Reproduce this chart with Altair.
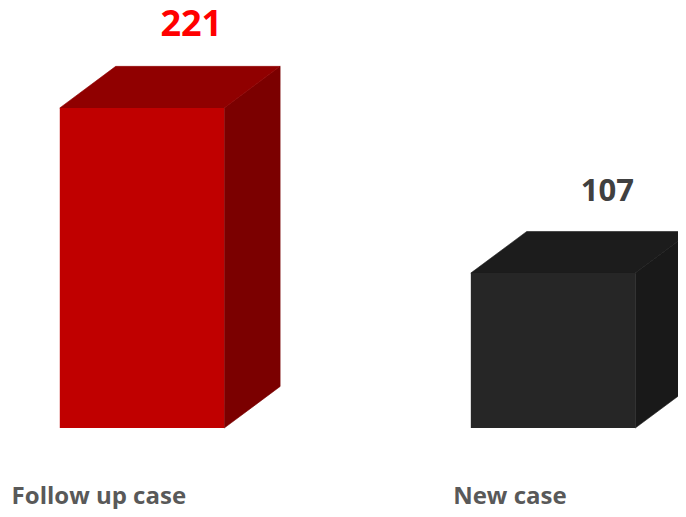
import altair as alt
import pandas as pd

# ---- data ----
categories = ["Follow up case", "New case"]
values = [221, 107]

# ---- styles ----
front_colors = ["#C00000", "#262626"]
top_colors = ["#900000", "#1C1C1C"]
side_colors = ["#7B0000", "#191919"]
label_colors = ["#FF0000", "#404040"]
label_sizes = [36, 31]

# ---- geometry constants (data units) ----
HALF_W = 0.2     # half width of the front face (in slot units)
DEPTH_X = 0.136  # horizontal depth of the 3D effect
DEPTH_Y = 28.7   # vertical depth of the 3D effect (value units)
X_DOMAIN = [-0.326, 1.304]
Y_DOMAIN = [-55.9, 290.0]

W, H = 670, 501
FONT = "Open Sans"

front_rows, side_rows, top_rows = [], [], []
for i, (c, v) in enumerate(zip(categories, values)):
    front_rows.append({"cat": c, "x": i - HALF_W, "x2": i + HALF_W, "y": 0, "y2": v})
    side_rows.append({"cat": c, "x": i + HALF_W, "y": 0, "y2": v})
    side_rows.append({"cat": c, "x": i + HALF_W + DEPTH_X, "y": DEPTH_Y, "y2": v + DEPTH_Y})
    top_rows.append({"cat": c, "y": v, "x": i - HALF_W, "x2": i + HALF_W})
    top_rows.append({"cat": c, "y": v + DEPTH_Y, "x": i - HALF_W + DEPTH_X, "x2": i + HALF_W + DEPTH_X})

front_df = pd.DataFrame(front_rows)
side_df = pd.DataFrame(side_rows)
top_df = pd.DataFrame(top_rows)
label_df = pd.DataFrame({
    "cat": categories,
    "value": values,
    "x": [0.12, 1.132],
    "y": [v + DEPTH_Y for v in values],
    "size": label_sizes,
})
cat_df = pd.DataFrame({
    "cat": categories,
    "x": [i - 0.105 for i in range(len(values))],
    "y": [0 for _ in values],
})

xs = alt.Scale(domain=X_DOMAIN, nice=False, zero=False)
ys = alt.Scale(domain=Y_DOMAIN, nice=False, zero=False)

def col(rng):
    return alt.Color("cat:N", scale=alt.Scale(domain=categories, range=rng), legend=None)

side = alt.Chart(side_df).mark_area(orient="vertical", strokeWidth=0.6).encode(
    x=alt.X("x:Q", scale=xs, axis=None),
    y=alt.Y("y:Q", scale=ys, axis=None),
    y2="y2:Q",
    color=col(side_colors),
    stroke=alt.Stroke("cat:N", scale=alt.Scale(domain=categories, range=side_colors), legend=None),
)

top = alt.Chart(top_df).mark_area(orient="horizontal", strokeWidth=0.6).encode(
    y=alt.Y("y:Q", scale=ys, axis=None),
    x=alt.X("x:Q", scale=xs, axis=None),
    x2="x2:Q",
    color=col(top_colors),
    stroke=alt.Stroke("cat:N", scale=alt.Scale(domain=categories, range=top_colors), legend=None),
)

front = alt.Chart(front_df).mark_rect().encode(
    x=alt.X("x:Q", scale=xs, axis=None),
    x2="x2:Q",
    y=alt.Y("y:Q", scale=ys, axis=None),
    y2="y2:Q",
    color=col(front_colors),
)

labels = alt.Chart(label_df).mark_text(
    font=FONT, fontWeight="bold", baseline="alphabetic", align="center", dy=-30
).encode(
    x=alt.X("x:Q", scale=xs, axis=None),
    y=alt.Y("y:Q", scale=ys, axis=None),
    text="value:Q",
    color=col(label_colors),
    size=alt.Size("size:Q", scale=None, legend=None),
)

cat_labels = alt.Chart(cat_df).mark_text(
    font=FONT, fontWeight="bold", fontSize=24, baseline="alphabetic", align="center",
    dy=76, color="#595959"
).encode(
    x=alt.X("x:Q", scale=xs, axis=None),
    y=alt.Y("y:Q", scale=ys, axis=None),
    text="cat:N",
)

chart = alt.layer(side, top, front, labels, cat_labels).resolve_scale(
    color="independent", stroke="independent"
).properties(
    width=W, height=H, padding=0, autosize=alt.AutoSizeParams(type="none")
).configure_view(stroke=None)

chart.save("out.html", embed_options={"renderer": "svg", "actions": False})
